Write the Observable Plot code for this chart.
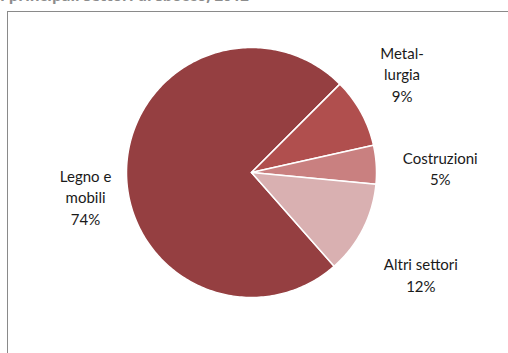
<!DOCTYPE html>
<html>
<head>
<meta charset="utf-8">
<script src="https://cdn.jsdelivr.net/npm/d3@7"></script>
<script src="https://cdn.jsdelivr.net/npm/@observablehq/plot@0.6"></script>
<style>
  html, body { margin: 0; padding: 0; background: #fff; overflow: hidden; width: 508px; height: 353px; }
  #wrap { position: relative; width: 508px; height: 353px; }
  #title { position: absolute; left: 0; top: -14px; font-family: "Open Sans", sans-serif; font-weight: bold; font-size: 15px; line-height: 18px; color: #8c8c8c; white-space: nowrap; z-index: 3; }
  #frame { position: absolute; left: 7px; top: 11px; width: 600px; height: 500px; border: 1.5px solid #8a8a8a; box-sizing: border-box; z-index: 2; pointer-events: none; }
  #chart { position: absolute; left: 0; top: 0; z-index: 1; }
</style>
</head>
<body>
<div id="wrap">
  <div id="title">I principali settori di sbocco, 2012</div>
  <div id="chart"></div>
  <div id="frame"></div>
</div>
<script>
// Data
const categories = ["Legno e mobili", "Metallurgia", "Costruzioni", "Altri settori"];
const labelNames = ["Legno e\nmobili", "Metal-\nlurgia", "Costruzioni", "Altri settori"];
const shares = [74, 9, 5, 12];
const colors = ["#953F41", "#B04F4E", "#C98080", "#D9B0B1"];

// Layout: first slice rotated so that boundary Legno/Metallurgia sits at 45deg
const total = d3.sum(shares);
const startDeg = 45 - shares[0] / total * 360;

const slices = [];
let acc = 0;
categories.forEach((c, i) => {
  const a0 = startDeg + acc / total * 360;
  acc += shares[i];
  const a1 = startDeg + acc / total * 360;
  slices.push({category: c, label: labelNames[i] + "\n" + shares[i] + "%", a0, a1, mid: (a0 + a1) / 2});
});

const rad = d => d * Math.PI / 180;
const poly = [];
slices.forEach(s => {
  poly.push({category: s.category, x: 0, y: 0});
  const n = Math.max(2, Math.ceil(s.a1 - s.a0));
  for (let k = 0; k <= n; k++) {
    const a = rad(s.a0 + (s.a1 - s.a0) * k / n);
    poly.push({category: s.category, x: Math.sin(a), y: Math.cos(a)});
  }
});
const labelPts = slices.map(s => ({category: s.category, label: s.label, x: Math.sin(rad(s.mid)), y: Math.cos(rad(s.mid))}));

const textStyle = {fontFamily: "Lato, 'Open Sans', sans-serif", fontSize: 15, fill: "#1a1a1a", lineHeight: 1.43, textAnchor: "middle", lineAnchor: "middle"};
const labelMark = (cat, dx, dy) => Plot.text(labelPts.filter(d => d.category === cat), {x: "x", y: "y", text: "label", dx, dy, ...textStyle});

const chart = Plot.plot({
  width: 508,
  height: 353,
  margin: 0,
  style: {background: "transparent"},
  x: {domain: [-1, 1], range: [126, 376], axis: null},
  y: {domain: [-1, 1], range: [297, 47], axis: null},
  color: {domain: categories, range: colors},
  marks: [
    Plot.line(poly, {x: "x", y: "y", z: "category", fill: "category", stroke: "white", strokeWidth: 1.5, curve: "linear-closed"}),
    labelMark("Legno e mobili", -41, 28),
    labelMark("Metallurgia", 41, -39),
    labelMark("Costruzioni", 64, 3),
    labelMark("Altri settori", 58, 45)
  ]
});
document.getElementById("chart").appendChild(chart);
</script>
</body>
</html>
